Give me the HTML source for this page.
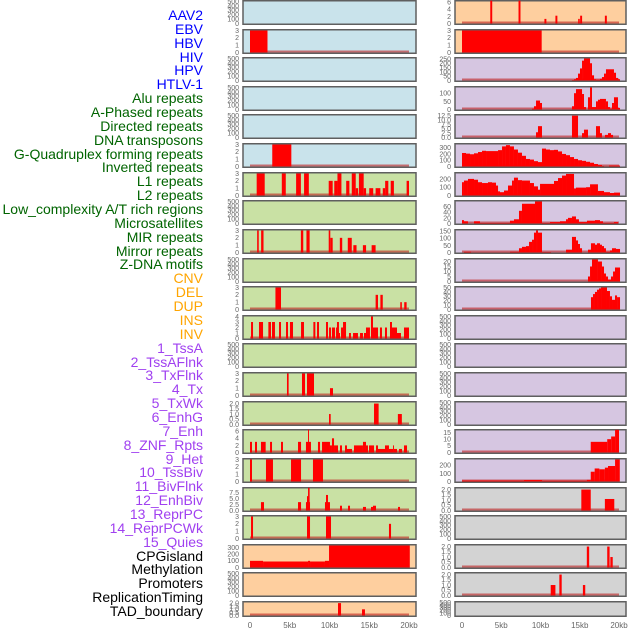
<!DOCTYPE html>
<html><head><meta charset="utf-8">
<style>
html,body{margin:0;padding:0;background:#fff;}
#wrap{position:relative;width:630px;height:630px;overflow:hidden;font-family:"Liberation Sans",sans-serif;}
.lab{position:absolute;right:427px;font-size:14px;line-height:14px;white-space:nowrap;}
svg{position:absolute;left:0;top:0;}
</style></head>
<body>
<div id="wrap">
<svg id="plot" width="630" height="630"></svg>
</div>
<script>
// ---- row labels ----
const labelsBlue=["AAV2","EBV","HBV","HIV","HPV","HTLV-1"];
const labelsGreen=["Alu repeats","A-Phased repeats","Directed repeats","DNA transposons","G-Quadruplex forming repeats","Inverted repeats","L1 repeats","L2 repeats","Low_complexity A/T rich regions","Microsatellites","MIR repeats","Mirror repeats","Z-DNA motifs"];
const labelsOrange=["CNV","DEL","DUP","INS","INV"];
const labelsPurple=["1_TssA","2_TssAFlnk","3_TxFlnk","4_Tx","5_TxWk","6_EnhG","7_Enh","8_ZNF_Rpts","9_Het","10_TssBiv","11_BivFlnk","12_EnhBiv","13_ReprPC","14_ReprPCWk","15_Quies"];
const labelsBlack=["CPGisland","Methylation","Promoters","ReplicationTiming","TAD_boundary"];

// ---- x axis ----
const xTickKb=[0,5,10,15,20];
const xTickLabels=["0","5kb","10kb","15kb","20kb"];

// ---- left column data: [startKb,endKb,value] ----
const L1=[[0,2.2,3]];
const L5=[[2.8,5.2,3]];
const L6=[[0.84,1.85,3],[4.0,4.5,3],[5.8,6.4,3],[6.8,7.4,3],[9.9,10.4,2],[10.6,11.0,2],[11.0,11.5,3],[12.1,12.5,2],[12.8,13.3,3],[13.3,13.6,1],[13.7,14.3,3],[14.3,14.6,1],[15.0,15.5,1],[15.8,16.4,1],[16.7,17.0,1],[17.0,17.4,2],[17.7,18.1,2],[19.7,20,2]];
const L8=[[0.9,1.1,3],[1.4,1.7,3],[6.4,6.7,3],[7.1,7.5,3],[9.9,10.1,3],[10.1,10.4,2],[11.3,11.6,2],[12.3,12.8,2],[13.0,13.4,1],[14.2,14.6,1],[15.3,15.8,1]];
const L10=[[3.2,3.9,3],[15.8,16.1,2],[16.4,16.7,2],[18.9,19.1,1],[19.4,19.7,1]];
const L11=[[0.13,0.38,3],[1.13,1.64,3],[2.31,2.64,3],[2.77,3.14,3],[3.65,3.9,3],[4.53,4.78,3],[5.03,5.41,3],[6.42,6.79,3],[7.97,8.22,3],[8.43,8.68,3],[9.56,9.81,3],[9.94,10.19,2],[10.31,10.69,2],[10.82,10.94,2],[10.94,11.19,3],[11.19,11.32,1],[11.45,11.7,2],[11.7,12.08,3],[12.45,12.7,1],[12.96,13.58,1],[13.84,14.21,1],[14.34,14.59,1],[14.59,15.09,2],[15.22,15.47,4],[15.47,16.1,2],[16.35,16.6,2],[16.98,17.23,2],[17.61,17.86,3],[17.86,18.49,2],[18.49,18.99,1],[19.37,20,2]];
const L13=[[4.65,4.86,3],[6.54,6.92,3],[7.17,8.05,3],[10.06,10.44,1]];
const L14=[[9.94,10.15,1],[15.6,16.18,2],[18.6,19.1,1]];
const L15=[[0,0.25,3],[0.63,0.88,3],[1.38,1.97,3],[2.52,2.77,3],[3.9,4.15,3],[6.04,6.42,3],[7.04,7.67,3],[7.3,7.42,7],[8.55,8.81,3],[9.06,10.06,3],[10.06,10.31,2],[10.31,10.57,4],[10.57,11.07,2],[11.32,11.57,2],[11.95,12.2,2],[12.2,12.83,1],[13.08,13.71,2],[13.71,14.21,2],[14.21,14.59,3],[14.59,14.84,2],[14.97,15.6,2],[15.85,16.1,2],[16.1,16.98,1],[16.98,17.48,2],[17.48,17.99,1],[17.99,18.11,2],[18.11,18.49,1],[18.74,19.12,1],[19.37,19.75,2]];
const L16=[[0,0.25,3],[2.01,2.89,3],[5.16,6.42,3],[7.92,9.18,3]];
const L17=[[1.38,1.76,3.5],[6.04,6.42,3.5],[7.04,7.55,3.5],[7.17,7.42,6],[7.3,7.5,9.5],[9.43,9.69,3.5],[9.56,9.81,6.5],[9.81,10.06,3.5],[11.32,11.57,2],[12.33,12.58,2],[14.21,14.59,1.5],[15.22,15.47,1.5],[15.47,15.85,2],[18.62,18.87,1.5]];
const L18=[[0.13,0.38,3],[7.17,7.55,3],[9.56,10.19,3],[17.48,17.74,2]];
const L19=[[0,1.64,100],[1.64,7.3,90],[7.3,7.55,100],[7.55,9.43,90],[9.43,9.94,100],[9.94,20.1,330]];
const L21=[[11.07,11.45,2],[14.09,14.46,1]];

// ---- right column data ----
const R0=[[3.6,3.85,7],[7.2,7.45,7],[10.5,10.75,1.3],[11.9,12.15,2.2],[14.8,15.0,1.3],[15.05,15.3,2.2],[18.2,18.45,2.2]];
const R1=[[0,10.15,3]];
const R2=[[14.01,14.27,5],[14.27,14.52,15],[14.52,14.78,30],[14.78,15.03,80],[15.03,15.29,140],[15.29,15.54,230],[15.54,16.31,255],[16.31,16.56,200],[16.56,16.82,60],[16.82,17.07,15],[17.07,17.58,10],[17.58,17.83,20],[17.83,18.09,40],[18.09,18.34,80],[18.34,19.36,130],[19.36,19.62,90],[19.62,19.87,30],[19.87,20.13,15]];
const R3=[[8.92,9.17,5],[9.17,9.43,20],[9.43,9.94,55],[9.94,10.19,40],[14.01,14.27,20],[14.27,14.52,100],[14.52,15.29,125],[15.29,15.54,95],[15.54,15.8,15],[16.05,16.31,75],[16.31,16.56,135],[16.56,17.07,15],[17.07,17.32,50],[17.32,17.58,60],[17.58,18.34,65],[18.34,18.6,50],[18.6,18.85,15],[18.85,19.11,5],[19.11,19.36,40],[19.36,19.87,75],[19.87,20.13,10]];
const R4=[[9.43,9.68,3],[9.68,10.19,6.5],[14.01,14.78,12.5],[15.29,15.54,2.5],[15.54,16.05,4.5],[17.07,17.58,6.5],[17.58,17.83,2.5],[18.22,18.6,1.5],[18.6,18.98,2.5],[18.98,19.24,1.5]];
const R5=[[0,0.51,215],[0.51,1.02,205],[1.02,1.53,195],[1.53,2.04,210],[2.04,2.55,230],[2.55,3.06,250],[3.06,4.59,245],[4.59,5.1,260],[5.1,5.6,320],[5.6,6.11,340],[6.11,6.62,320],[6.62,7.13,270],[7.13,7.64,220],[7.64,8.15,170],[8.15,8.66,120],[8.66,9.17,110],[9.17,9.68,85],[9.68,10.19,70],[10.19,10.19,70],[10.19,10.7,285],[10.7,11.21,270],[11.21,11.72,260],[11.72,12.23,265],[12.23,12.74,240],[12.74,13.25,200],[13.25,13.76,180],[13.76,14.27,150],[14.27,14.78,120],[14.78,15.29,100],[15.29,15.8,90],[15.8,16.31,75],[16.31,16.82,60],[16.82,17.32,40],[17.32,17.83,25],[17.83,18.09,8],[18.09,18.73,2],[18.73,20.13,15]];
const R6=[[0,0.25,160],[0.25,0.76,180],[0.76,1.53,200],[1.53,2.04,190],[2.04,2.55,160],[2.55,3.31,150],[3.31,3.82,160],[3.82,4.33,155],[4.33,4.59,120],[4.59,4.84,50],[4.84,5.35,40],[5.35,5.86,60],[5.86,6.37,120],[6.37,6.62,180],[6.62,7.13,215],[7.13,7.64,185],[7.64,8.66,180],[8.66,9.17,150],[9.17,9.68,110],[9.68,9.94,70],[9.94,11.72,140],[11.72,12.23,175],[12.23,12.74,210],[12.74,13.25,240],[13.25,14.27,260],[14.27,14.52,85],[14.52,15.8,95],[15.8,16.31,100],[16.31,17.32,135],[17.32,18.09,55],[18.09,18.85,40],[18.85,19.36,30],[19.36,20.13,35]];
const R7=[[0,0.25,12],[0.25,0.76,8],[1.53,2.29,8],[2.29,6.11,2],[6.11,6.62,10],[6.62,7.26,15],[7.26,7.64,45],[7.64,8.28,70],[8.28,9.3,70],[9.3,10.19,78],[10.19,11.21,2],[11.21,12.48,5],[12.48,13.25,8],[13.25,13.5,15],[13.5,14.01,20],[14.01,14.52,25],[14.52,14.9,15],[14.9,15.92,5],[15.92,16.94,10],[16.94,17.58,12],[17.58,17.96,8],[17.96,19.36,2],[19.36,19.87,5]];
const R8=[[0.25,1.15,5],[1.15,6.11,1],[6.11,7.26,5],[7.26,7.64,30],[7.64,8.15,40],[8.15,8.54,45],[8.54,8.92,75],[8.92,9.17,90],[9.17,9.43,140],[9.43,9.68,155],[9.68,10.19,140],[10.19,11.34,3],[13.25,14.01,20],[14.01,14.52,110],[14.52,14.78,85],[14.78,15.03,60],[15.03,15.29,30],[16.05,16.43,20],[16.43,16.94,65],[16.94,17.2,55],[17.2,17.58,65],[17.58,17.83,55],[17.83,18.09,45],[18.09,18.34,30],[18.34,18.85,5],[18.85,19.11,15],[19.11,19.62,30],[19.62,20.13,25]];
const R9=[[16.05,16.31,5],[16.31,16.56,15],[16.56,17.32,22],[17.32,17.83,20],[17.83,18.09,15],[18.09,18.34,8],[18.34,18.6,5],[18.6,18.98,2],[18.98,19.24,5],[19.24,19.49,10],[19.49,20.13,14]];
const R10=[[16.43,16.69,28],[16.69,16.94,35],[16.94,17.2,40],[17.2,17.45,45],[17.45,17.71,48],[17.71,18.47,50],[18.47,18.85,42],[18.85,19.11,30],[19.11,19.49,22],[19.49,19.75,32],[19.75,20.13,28]];
const R15=[[16.4,18.5,8],[18.5,19.0,10],[19.0,19.5,12],[19.5,20.0,17]];
const R16=[[0,7.9,12],[7.9,10.2,18],[10.2,15.9,10],[15.9,16.4,20],[16.4,16.9,120],[16.9,17.5,160],[17.5,18.2,150],[18.2,18.6,170],[18.6,19.5,190],[19.5,20.1,270]];
const R17=[[15.2,16.4,2],[18.2,19.4,1.1]];
const R19=[[15.9,16.2,2],[18.5,18.8,2],[18.9,19.2,1]];
const R20=[[11.3,11.9,1],[12.4,12.7,2],[15.4,15.7,1]];

const EMPTY=[0,100,200,300,400,500];
const T3=[0,1,2,3], T2=[0,0.5,1,1.5,2];
// per-row config: [data, ticks, ymax, bg]
const BLUE="#c9e3eb",GREEN="#c9e1a4",ORANGE="#fecf9f",PURPLE="#d6c6e1",GREY="#d3d3d3";
const leftRows=[[null,EMPTY,500,BLUE],[L1,T3,3,BLUE],[null,EMPTY,500,BLUE],[null,EMPTY,500,BLUE],[null,EMPTY,500,BLUE],[L5,T3,3,BLUE],
 [L6,T3,3,GREEN],[null,EMPTY,500,GREEN],[L8,T3,3,GREEN],[null,EMPTY,500,GREEN],[L10,T3,3,GREEN],[L11,[0,1,2,3,4],4,GREEN],[null,EMPTY,500,GREEN],
 [L13,T3,3,GREEN],[L14,T2,2.1,GREEN],[L15,[0,2,4,6],6.2,GREEN],[L16,T3,3,GREEN],[L17,[0,2.5,5,7.5],9.2,GREEN],[L18,T3,3,GREEN],
 [L19,[0,100,200,300],330,ORANGE],[null,EMPTY,500,ORANGE],[L21,T2,2.1,ORANGE]];
const rightRows=[[R0,[0,2,4,6],6.2,ORANGE],[R1,T3,3,ORANGE],[R2,[0,50,100,150,200,250],255,PURPLE],[R3,[0,50,100],135,PURPLE],[R4,[0,2.5,5,7.5,10,12.5],12.6,PURPLE],
 [R5,[0,100,200,300],350,PURPLE],[R6,[0,100,200],265,PURPLE],[R7,[0,20,40,60],78,PURPLE],[R8,[0,50,100,150],155,PURPLE],[R9,[0,5,10,15,20],22,PURPLE],
 [R10,[0,10,20,30,40,50],50,PURPLE],[null,EMPTY,500,PURPLE],[null,EMPTY,500,PURPLE],[null,EMPTY,500,PURPLE],[null,EMPTY,500,PURPLE],
 [R15,[0,5,10,15],16.5,PURPLE],[R16,[0,100,200],270,PURPLE],[R17,T2,2.1,GREY],[null,EMPTY,500,GREY],[R19,T2,2.1,GREY],[R20,T2,2.1,GREY],[null,EMPTY,500,GREY]];

const NS="http://www.w3.org/2000/svg";
const svg=document.getElementById('plot');
function mk(tag,attrs,parent){const e=document.createElementNS(NS,tag);for(const k in attrs)e.setAttribute(k,attrs[k]);(parent||svg).appendChild(e);return e;}

// labels
const wrap=document.getElementById('wrap');
const groups=[[labelsBlue,"#0000ff"],[labelsGreen,"#006400"],[labelsOrange,"#ffa500"],[labelsPurple,"#a040f0"],[labelsBlack,"#000"]];
let li=0;
groups.forEach(([arr,col])=>arr.forEach(t=>{
  const d=document.createElement('div');d.className='lab';d.style.color=col;
  d.style.top=(8+li*13.86)+'px';d.textContent=t;
  
  
  wrap.appendChild(d);li++;}));

const cols=[{x0:243,x1:416,z:250,t:409,rows:leftRows,tx:239,name:'left'},{x0:455,x1:626,z:462,t:619,rows:rightRows,tx:451,name:'right'}];
function fmt(v,ticks){return ticks.some(t=>t%1!==0)?v.toFixed(1):String(v);}
cols.forEach(c=>{
  const xs=kb=>c.z+kb/20*(c.t-c.z);
  c.rows.forEach((r,i)=>{
    const [data,ticks,ymax,bg]=r;
    const top=Math.round(i*28.62), h=(i===21)?16:25, bot=top+h;
    const g=mk('g',{});
    
    
    const rect=mk('rect',{x:c.x0,y:top+0.75,width:c.x1-c.x0,height:h-1.5,fill:bg,stroke:'#5f5f5f','stroke-width':1.5},g);
    
    
    const ys=v=>bot-1.5-Math.min(v,ymax*1.04)/ymax*(h-3);
    ticks.forEach(tv=>{
      const t=mk('text',{x:c.tx,y:ys(tv)+2.4,'font-size':7,fill:'#666','text-anchor':'end','font-family':'Liberation Sans, sans-serif'},g);
      
      
      t.textContent=fmt(tv,ticks);
    });
    if(data){
      const bl=mk('line',{x1:xs(0),x2:xs(20),y1:bot-2.5,y2:bot-2.5,stroke:'rgba(190,30,30,0.6)','stroke-width':2},g);
      
      
      data.forEach(([s,e,v])=>{
        const b=mk('rect',{x:xs(s),y:ys(v),width:Math.max(xs(e)-xs(s),0.8),height:Math.max(bot-1.5-ys(v),0),fill:'#ff0000'},g);
        
        
      });
    }
  });
  xTickKb.forEach((k,j)=>{
    const t=mk('text',{x:xs(k),y:628,'font-size':8,fill:'#666','text-anchor':'middle','font-family':'Liberation Sans, sans-serif'});
    
    
    t.textContent=xTickLabels[j];
  });
});
</script>
</body></html>
